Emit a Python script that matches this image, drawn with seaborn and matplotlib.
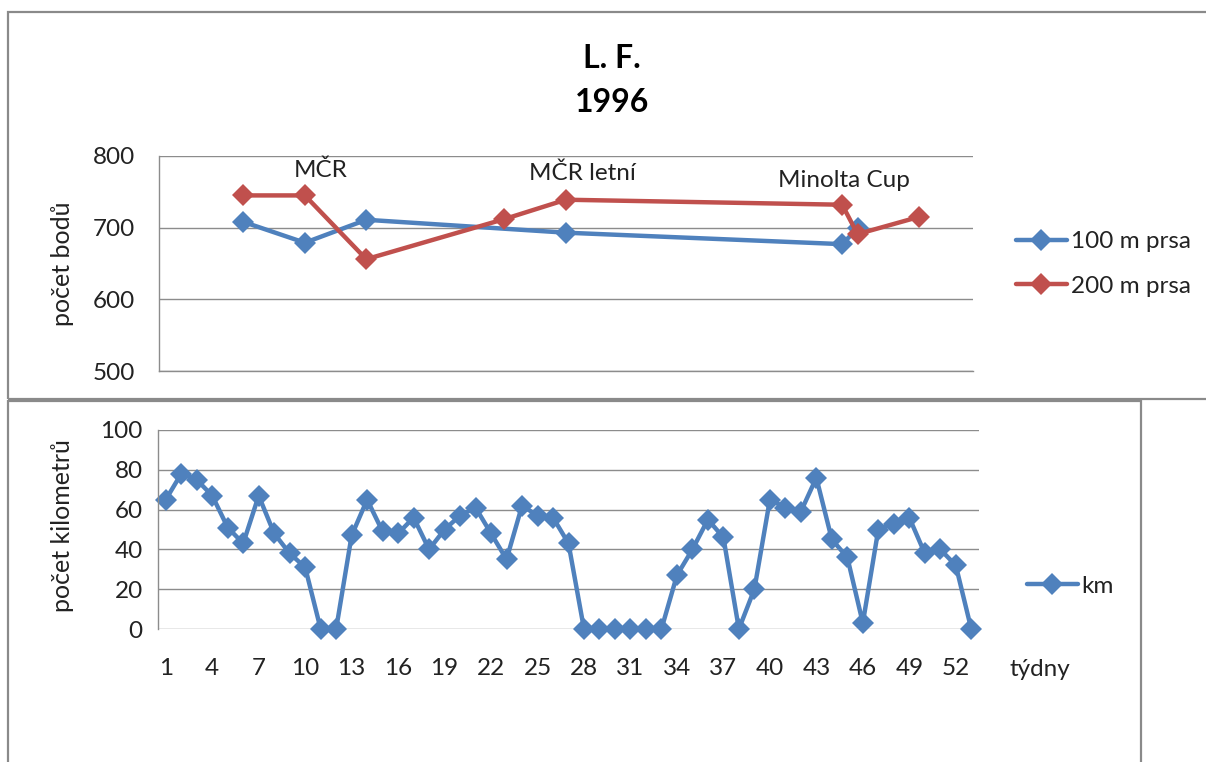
import matplotlib
matplotlib.use("Agg")
import matplotlib.pyplot as plt
from matplotlib.patches import Rectangle
import seaborn as sns
import pandas as pd
import numpy as np

# ---- data ----
weeks_km = list(range(1, 54))
km = [65, 78, 75, 67, 51, 43, 67, 48, 38, 31,
      0, 0, 47, 65, 49, 48, 56, 40, 50, 57,
      61, 48, 35, 62, 57, 56, 43, 0, 0, 0,
      0, 0, 0, 27, 40, 55, 46, 0, 20, 65,
      61, 59, 76, 45, 36, 3, 50, 53, 56, 38,
      40, 32, 0]

weeks_100 = [6, 10, 14, 27, 45, 46]
pts_100 = [708, 679, 711, 693, 677, 699]
weeks_200 = [6, 10, 14, 23, 27, 45, 46, 50]
pts_200 = [745, 745, 656, 712, 739, 732, 691, 715]

events = ["MČR", "MČR letní", "Minolta Cup"]
event_x = [11, 28.1, 45.1]
event_y = [780, 776, 766]

xtick_labels = [str(w) for w in range(1, 54, 3)]

BLUE = "#4F81BD"
RED = "#C0504D"
GRID = "#8C8C8C"
TXT = "#222222"

sns.set_theme(style="white")
plt.rcParams["font.family"] = ["Lato", "DejaVu Sans"]

W, H = 1206, 762
fig = plt.figure(figsize=(W / 100, H / 100), dpi=100)
fig.patch.set_facecolor("white")

def fx(px):
    return px / W

def fy(py):
    return 1 - py / H

# panel borders
fig.patches.append(Rectangle((fx(8), fy(399)), fx(1300) - fx(8), fy(12) - fy(399),
                             transform=fig.transFigure, fill=False,
                             edgecolor="#8A8A8A", linewidth=1.6, zorder=0))
fig.patches.append(Rectangle((fx(8), fy(800)), fx(1141) - fx(8), fy(401) - fy(800),
                             transform=fig.transFigure, fill=False,
                             edgecolor="#8A8A8A", linewidth=1.6, zorder=0))

# titles
fig.text(fx(612), fy(58), "L. F.", ha="center", va="center",
         fontsize=23, fontweight="bold", color="black")
fig.text(fx(612), fy(102), "1996", ha="center", va="center",
         fontsize=23, fontweight="bold", color="black")

FS = 17.5
LFS = 18

# ---- top chart ----
ax1 = fig.add_axes([fx(159), fy(371), fx(972.7) - fx(159), fy(156) - fy(371)])
df100 = pd.DataFrame({"week": weeks_100, "points": pts_100, "series": "100 m prsa"})
df200 = pd.DataFrame({"week": weeks_200, "points": pts_200, "series": "200 m prsa"})
dft = pd.concat([df100, df200], ignore_index=True)
sns.lineplot(data=dft, x="week", y="points", hue="series",
             palette={"100 m prsa": BLUE, "200 m prsa": RED},
             marker="D", markersize=11, markeredgewidth=0, linewidth=3.2,
             sort=False, estimator=None, ax=ax1, legend=True)
ax1.set_xlim(0.5, 53.5)
ax1.set_ylim(500, 800)
ax1.set_yticks([500, 600, 700, 800])
ax1.set_xticks([])
ax1.grid(axis="y", color=GRID, linewidth=1.0)
ax1.set_axisbelow(True)
for s in ["top", "right"]:
    ax1.spines[s].set_visible(False)
for s in ["left", "bottom"]:
    ax1.spines[s].set_color(GRID)
    ax1.spines[s].set_linewidth(1.0)
ax1.tick_params(axis="y", length=0, pad=17, labelsize=FS, labelcolor=TXT)
ax1.set_xlabel("")
ax1.set_ylabel("")
fig.text(fx(62), fy(264), "počet bodů", rotation=90, ha="center", va="center",
         fontsize=LFS, color=TXT)
for t, x, y in zip(events, event_x, event_y):
    ax1.text(x, y, t, ha="center", va="center", fontsize=FS, color=TXT)
h, l = ax1.get_legend_handles_labels()
ax1.legend(h, l, loc="center left", bbox_to_anchor=(fx(994), fy(264)),
           bbox_transform=fig.transFigure, frameon=False, fontsize=FS,
           handlelength=2.1, handletextpad=0.15, labelspacing=0.95,
           labelcolor=TXT)

# ---- bottom chart ----
ax2 = fig.add_axes([fx(158), fy(629), fx(979) - fx(158), fy(430) - fy(629)])
dfk = pd.DataFrame({"week": weeks_km, "km": km, "series": "km"})
sns.lineplot(data=dfk, x="week", y="km", hue="series", palette={"km": BLUE},
             marker="D", markersize=11, markeredgewidth=0, linewidth=3.2,
             estimator=None, ax=ax2, legend=True)
ax2.set_xlim(0.5, 53.5)
ax2.set_ylim(0, 100)
ax2.set_yticks([0, 20, 40, 60, 80, 100])
ax2.set_xticks(list(range(1, 54, 3)))
ax2.set_xticklabels(xtick_labels)
ax2.grid(axis="y", color=GRID, linewidth=1.0)
ax2.set_axisbelow(True)
ax2.patch.set_alpha(0)
for s in ["top", "right", "bottom"]:
    ax2.spines[s].set_visible(False)
ax2.spines["left"].set_color(GRID)
ax2.spines["left"].set_linewidth(1.0)
ax2.tick_params(axis="y", length=6, width=1.0, color=GRID, pad=5,
                labelsize=FS, labelcolor=TXT)
ax2.tick_params(axis="x", length=0, pad=21, labelsize=FS, labelcolor=TXT)
ax2.set_xlabel("")
ax2.set_ylabel("")
for line in ax2.lines:
    line.set_clip_on(False)
for line in ax1.lines:
    line.set_clip_on(False)
fig.text(fx(62), fy(526), "počet kilometrů", rotation=90, ha="center", va="center",
         fontsize=LFS, color=TXT)
fig.text(fx(1010), fy(670), "týdny", ha="left", va="center", fontsize=FS,
         color=TXT)
h2, l2 = ax2.get_legend_handles_labels()
ax2.legend(h2, l2, loc="center left", bbox_to_anchor=(fx(1005), fy(586)),
           bbox_transform=fig.transFigure, frameon=False, fontsize=FS,
           handlelength=2.1, handletextpad=0.15, labelcolor=TXT)

fig.savefig("out.png", dpi=100, facecolor="white")
